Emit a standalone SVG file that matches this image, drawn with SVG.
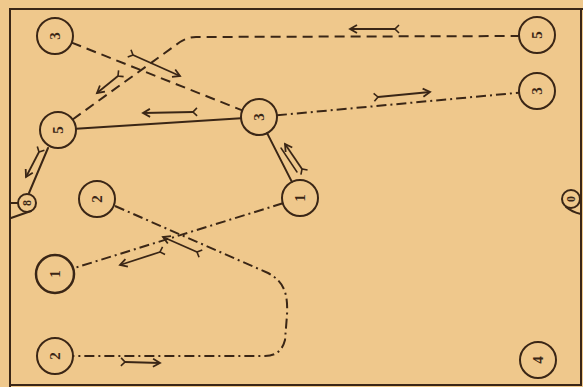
<svg xmlns="http://www.w3.org/2000/svg" width="583" height="387" viewBox="0 0 583 387">
<defs>
<style>
.ink{stroke:#3a2616;fill:none;stroke-width:2;stroke-linecap:round}
.node circle{stroke:#3a2616;fill:none;stroke-width:2}
.node text{font-family:"Liberation Serif",serif;font-size:15px;font-weight:bold;fill:#3a2616;text-anchor:middle;dominant-baseline:central}
.dash{stroke-dasharray:10 6;stroke-linecap:butt}
.dashdot{stroke-dasharray:10 4 2 4;stroke-linecap:butt}
.arr{stroke:#3a2616;fill:none;stroke-width:1.8;marker-end:url(#head);marker-start:url(#tail)}
</style>
<marker id="head" markerUnits="userSpaceOnUse" markerWidth="14" markerHeight="14" refX="0" refY="0" viewBox="-10 -7 14 14" orient="auto">
<path d="M-7,-4 L0,0 L-7,4" fill="none" stroke="#3a2616" stroke-width="1.8"/>
</marker>
<marker id="tail" markerUnits="userSpaceOnUse" markerWidth="14" markerHeight="14" refX="0" refY="0" viewBox="-7 -7 14 14" orient="auto">
<path d="M-4,-4 L0,0 L-4,4" fill="none" stroke="#3a2616" stroke-width="1.6"/>
</marker>
</defs>
<rect x="0" y="0" width="583" height="387" fill="#efc88c"/>
<g id="court" class="ink">
<path d="M10,387 L10,9 L583,9"/>
<path d="M581,9 L581,385 L10,385"/>
</g>
<g id="connectors">
<line class="ink dash" x1="71.7" y1="42.6" x2="242.3" y2="110.4"/>
<path class="ink dash" d="M72.6,119.5 L180,42 Q188,37 196,37 L519,36"/>
<line class="ink" x1="76" y1="128.8" x2="241" y2="118.2"/>
<line class="ink dashdot" x1="276.9" y1="115.3" x2="519.1" y2="92.7"/>
<line class="ink" x1="267.1" y1="133.1" x2="291.9" y2="181.9"/>
<line class="ink" x1="48" y1="148" x2="29" y2="193"/>
<path class="ink dashdot" d="M115,206 L268,273 C285,282 288,295 287,315 L285,340 Q281,356 265,356 L73,356"/>
<line class="ink dashdot" x1="282.8" y1="203.3" x2="73.1" y2="268.4"/>
<line class="arr" x1="193" y1="112" x2="143" y2="113"/>
<line class="arr" x1="133" y1="55" x2="180" y2="76"/>
<line class="arr" x1="118" y1="76" x2="97" y2="93"/>
<line class="arr" x1="39" y1="152" x2="26" y2="177"/>
<path class="arr" d="M302,169 L285,144"/>
<path class="ink" style="stroke-width:1.5" d="M297,172 L281,148"/>
<line class="arr" x1="395" y1="29" x2="350" y2="29"/>
<line class="arr" x1="378" y1="97" x2="430" y2="92"/>
<line class="arr" x1="160" y1="252" x2="120" y2="265"/>
<line class="arr" x1="197" y1="252" x2="163" y2="237"/>
<line class="arr" x1="125" y1="362" x2="160" y2="363"/>
</g>
<g id="basket-left" class="node">
<circle cx="27" cy="203" r="9"/>
<path class="ink" d="M10,203 L18,203 M11,218 L31,211"/>
<text transform="translate(27,203) rotate(-90)" style="font-size:12px">8</text>
</g>
<g id="basket-right" class="node">
<circle cx="571" cy="199" r="9"/>
<path class="ink" d="M566,207 Q572,212 581,214"/>
<text transform="translate(571,199) rotate(-90)" style="font-size:12px">0</text>
</g>
<g id="n3-topleft" class="node"><circle cx="55" cy="36" r="18"/><text transform="translate(55,36) rotate(-90)">3</text></g>
<g id="n5-left" class="node"><circle cx="58" cy="130" r="18"/><text transform="translate(58,130) rotate(-90)">5</text></g>
<g id="n3-mid" class="node"><circle cx="259" cy="117" r="18"/><text transform="translate(259,117) rotate(-90)">3</text></g>
<g id="n5-topright" class="node"><circle cx="537" cy="35" r="18"/><text transform="translate(537,35) rotate(-90)">5</text></g>
<g id="n3-right" class="node"><circle cx="537" cy="91" r="18"/><text transform="translate(537,91) rotate(-90)">3</text></g>
<g id="n1-mid" class="node"><circle cx="300" cy="198" r="18"/><text transform="translate(300,198) rotate(-90)">1</text></g>
<g id="n2-upper" class="node"><circle cx="97" cy="199" r="18"/><text transform="translate(97,199) rotate(-90)">2</text></g>
<g id="n1-left" class="node"><circle cx="55" cy="274" r="19" style="stroke-width:2.5"/><text transform="translate(55,274) rotate(-90)">1</text></g>
<g id="n2-bottom" class="node"><circle cx="55" cy="356" r="18"/><text transform="translate(55,356) rotate(-90)">2</text></g>
<g id="n4" class="node"><circle cx="538" cy="360" r="18"/><text transform="translate(538,360) rotate(-90)">4</text></g>
</svg>
